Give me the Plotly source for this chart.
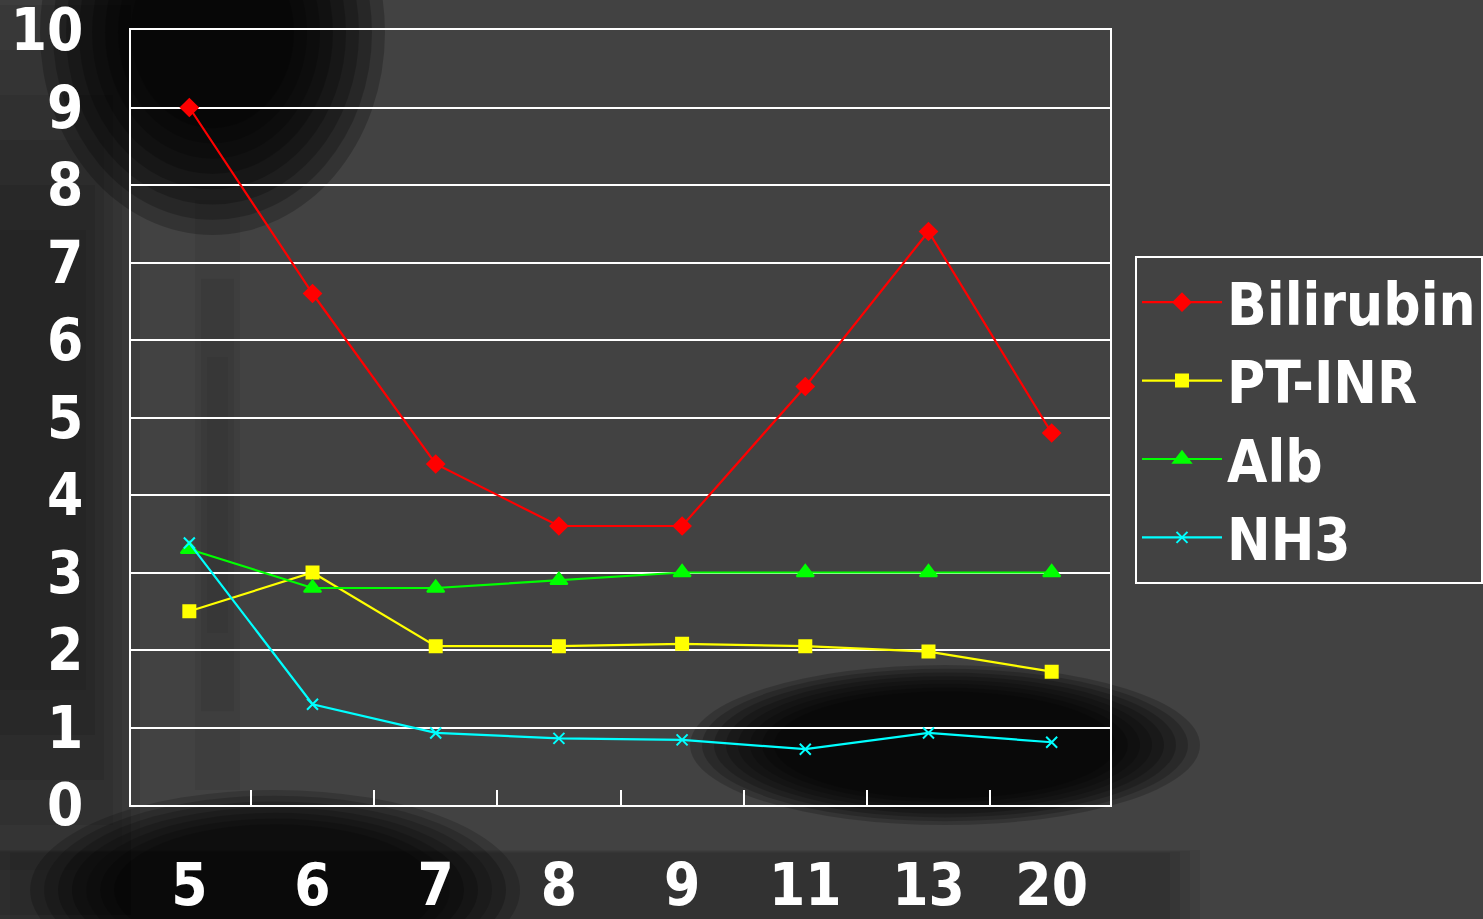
import plotly.graph_objects as go

categories = ["5", "6", "7", "8", "9", "11", "13", "20"]
bilirubin = [9.0, 6.6, 4.4, 3.6, 3.6, 5.4, 7.4, 4.8]
pt_inr = [2.5, 3.0, 2.05, 2.05, 2.08, 2.05, 1.98, 1.72]
alb = [3.3, 2.8, 2.8, 2.9, 3.0, 3.0, 3.0, 3.0]
nh3 = [3.38, 1.3, 0.93, 0.86, 0.84, 0.72, 0.93, 0.81]
y_ticks = list(range(0, 11))

series = [
    ("Bilirubin", bilirubin, "#ff0000", "diamond", 13),
    ("PT-INR", pt_inr, "#ffff00", "square", 12),
    ("Alb", alb, "#00ff00", "triangle-up", 15),
    ("NH3", nh3, "#00ffff", "x-thin-open", 11),
]

W, H = 1483, 919
L, R, T, B = 131, 373, 30, 114
PW, PH = W - L - R, H - T - B


def px(x):
    return (x - L) / PW


def py(y):
    return (H - B - y) / PH


fig = go.Figure()
for name, vals, color, sym, size in series:
    fig.add_trace(go.Scatter(
        x=categories, y=vals, name=name, mode="lines+markers",
        line=dict(color=color, width=2.2),
        marker=dict(symbol=sym, size=size, color=color,
                    line=dict(color=color, width=2)),
    ))

# decorative soft dark photo-like background patches (nested layers)
bg_blobs = [
    # kind, x0, y0, x1, y1, per-layer alpha, layers, shrink step px
    ("rect", -60, -40, 140, 960, 0.07, 7, 9),
    ("circle", 40, -170, 385, 235, 0.22, 8, 13),
    ("rect", 195, 200, 240, 790, 0.05, 3, 6),
    ("circle", 690, 665, 1200, 825, 0.2, 8, 12),
    ("circle", 30, 790, 520, 990, 0.18, 7, 14),
    ("rect", -20, 850, 1200, 960, 0.06, 4, 10),
]
for kind, x0, y0, x1, y1, a, n, step in bg_blobs:
    for k in range(n):
        d = k * step
        fig.add_shape(type=kind, xref="paper", yref="paper",
                      x0=px(x0 + d), x1=px(x1 - d),
                      y0=py(y1 - d * (y1 - y0) / (x1 - x0)),
                      y1=py(y0 + d * (y1 - y0) / (x1 - x0)),
                      fillcolor=f"rgba(0,0,0,{a})", line=dict(width=0),
                      layer="below")

FAM = "DejaVu Sans Condensed, DejaVu Sans"
font = dict(family=FAM, size=58, color="white", weight="bold")

fig.update_layout(
    width=W, height=H,
    margin=dict(l=L, r=R, t=T, b=B, autoexpand=False),
    paper_bgcolor="#424242",
    plot_bgcolor="rgba(0,0,0,0)",
    font=font,
    showlegend=True,
    legend=dict(
        x=px(1135), xanchor="left", y=py(256), yanchor="top",
        bgcolor="rgba(0,0,0,0)", bordercolor="white", borderwidth=2,
        font=dict(family=FAM, size=58, color="white", weight="bold"),
        itemwidth=80,
    ),
    xaxis=dict(
        type="category",
        showgrid=False,
        showline=True, linecolor="white", linewidth=2, mirror=True,
        ticks="inside", tickson="boundaries", ticklen=15, tickwidth=2,
        tickcolor="white",
        tickfont=font,
        ticklabelstandoff=28,
        ticklabeloverflow="allow",
    ),
    yaxis=dict(
        range=[0, 10],
        tickvals=y_ticks,
        ticktext=[str(v) for v in y_ticks],
        showgrid=True, gridcolor="white", gridwidth=2,
        showline=True, linecolor="white", linewidth=2, mirror=True,
        ticks="", zeroline=False,
        tickfont=font,
        ticklabelstandoff=34,
        ticklabeloverflow="allow",
    ),
)

fig.write_html("out.html")
